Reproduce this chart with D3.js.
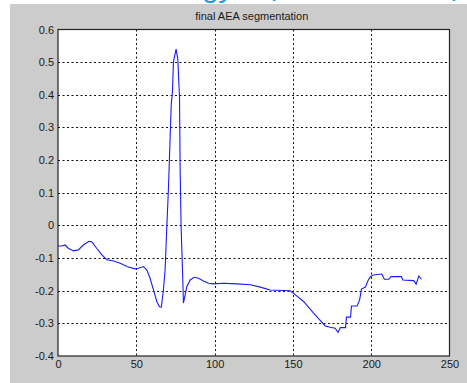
<!DOCTYPE html>
<html>
  <head>
    <meta charset="utf-8">
    <title></title>
    <script src="https://cdnjs.cloudflare.com/ajax/libs/d3/7.8.5/d3.min.js"></script>
    <style type="text/css">
        html, body{
            padding: 0px;
            margin: 0px;
            background: #fff;
        }
        svg{
            display: block;
            font-family: "Liberation Sans", Arial, sans-serif;
        }
    </style>
  </head>
  <body>
    <div id="vis"></div>
    <script type="text/javascript">

        // sample index (x) and amplitude (y)
        var sampleX = [0, 2.4, 4.5, 6.6, 9.8, 13, 16.2, 19.8, 21.5, 24.7, 28, 31.2, 35.5, 39.7, 44,
            49.2, 51.3, 54.5, 56.7, 58.8, 61, 63.1, 64.8, 66, 67.3, 68.4, 69.5, 70.5, 72.3, 73.1,
            73.7, 75.4, 76.5, 77.6, 78, 78.6, 79.5, 80.1, 81.2, 82.3, 84.4, 87, 89.7, 92.9, 96.1,
            99.3, 105.7, 114.3, 122.8, 129.2, 135.5, 148.3, 150.4, 156.8, 163.2, 167.3, 170.6,
            173.8, 177, 178.8, 180.3, 183.6, 184.2, 186.8, 187.4, 188.2, 191, 192.6, 193.8, 196.3,
            198, 199.5, 201.2, 206.8, 208.4, 211.2, 212.7, 219.3, 220.2, 227.2, 228.7, 230.4, 232.1];
        var amplitude = [-0.063, -0.063, -0.06, -0.07, -0.078, -0.075, -0.06, -0.049, -0.05, -0.07,
            -0.09, -0.105, -0.109, -0.116, -0.126, -0.133, -0.131, -0.126, -0.136, -0.162, -0.198,
            -0.233, -0.249, -0.25, -0.198, -0.136, -0.003, 0.109, 0.37, 0.41, 0.50, 0.54, 0.51,
            0.39, 0.17, -0.003, -0.136, -0.238, -0.213, -0.187, -0.167, -0.159, -0.162, -0.17,
            -0.177, -0.179, -0.177, -0.179, -0.182, -0.189, -0.198, -0.2, -0.208, -0.233, -0.269,
            -0.29, -0.308, -0.312, -0.315, -0.328, -0.313, -0.313, -0.281, -0.281, -0.247, -0.247,
            -0.247, -0.228, -0.195, -0.189, -0.169, -0.157, -0.152, -0.149, -0.165, -0.165, -0.157,
            -0.157, -0.167, -0.169, -0.18, -0.155, -0.165];

        var xTicks = [0, 50, 100, 150, 200, 250];
        var yTicks = [-0.4, -0.3, -0.2, -0.1, 0, 0.1, 0.2, 0.3, 0.4, 0.5, 0.6];
        var title = "final AEA segmentation";

        var width = 467, height = 383;
        var margin = {left: 58, right: 17.5, top: 29.5, bottom: 27};

        var svg = d3.select("#vis").append("svg")
            .attr("width", width)
            .attr("height", height);

        // grey figure background
        svg.append("rect")
            .attr("x", 10).attr("y", 4)
            .attr("width", width - 10).attr("height", height - 4)
            .attr("fill", "#cccccc");

        // cut-off heading text from the page above the figure (only its bottom shows)
        var head = svg.append("g")
            .attr("fill", "#1f9ee0")
            .attr("font-size", 30);
        head.append("text").attr("x", 204).attr("y", -3).attr("font-style", "italic").text("gy");
        head.append("text").attr("x", 266).attr("y", -5).text("(");
        head.append("text").attr("x", 452).attr("y", -5).text(")");

        var x = d3.scaleLinear().domain([0, 250])
            .range([margin.left, width - margin.right]);
        var y = d3.scaleLinear().domain([-0.4, 0.6])
            .range([height - margin.bottom, margin.top]);

        svg.append("rect")
            .attr("x", x(0)).attr("y", y(0.6))
            .attr("width", x(250) - x(0)).attr("height", y(-0.4) - y(0.6))
            .attr("fill", "#fff");

        // dotted grid
        var grid = svg.append("g")
            .attr("stroke", "#111")
            .attr("stroke-width", 1)
            .attr("stroke-dasharray", "2,2.5");
        grid.selectAll(".gx").data(xTicks.slice(1, -1)).enter().append("line")
            .attr("x1", d => Math.round(x(d)) + 0.5).attr("x2", d => Math.round(x(d)) + 0.5)
            .attr("y1", y(0.6)).attr("y2", y(-0.4));
        grid.selectAll(".gy").data(yTicks.slice(1, -1)).enter().append("line")
            .attr("y1", d => Math.round(y(d)) + 0.5).attr("y2", d => Math.round(y(d)) + 0.5)
            .attr("x1", x(0)).attr("x2", x(250));

        // signal
        var pts = sampleX.map((v, i) => [v, amplitude[i]]);
        var line = d3.line().x(d => x(d[0])).y(d => y(d[1]));
        svg.append("path")
            .datum(pts)
            .attr("d", line)
            .attr("fill", "none")
            .attr("stroke", "#1a1aff")
            .attr("stroke-width", 1.1);

        // axes frame
        svg.append("rect")
            .attr("x", x(0)).attr("y", y(0.6))
            .attr("width", x(250) - x(0)).attr("height", y(-0.4) - y(0.6))
            .attr("fill", "none")
            .attr("stroke", "#222")
            .attr("stroke-width", 1.2);

        var xAxis = svg.append("g")
            .attr("transform", "translate(0," + y(-0.4) + ")")
            .call(d3.axisBottom(x).tickValues(xTicks).tickSize(0).tickPadding(4)
                .tickFormat(d3.format("d")));
        var yAxis = svg.append("g")
            .attr("transform", "translate(" + x(0) + ",0)")
            .call(d3.axisLeft(y).tickValues(yTicks).tickSize(0).tickPadding(4)
                .tickFormat(d => d === 0 ? "0" : d3.format(".1f")(d).replace("\u2212", "-")));

        [xAxis, yAxis].forEach(a => {
            a.select(".domain").remove();
            a.selectAll("text")
                .attr("fill", "#1a1a1a")
                .attr("font-size", 11)
                .attr("font-family", "'Liberation Sans', Arial, sans-serif");
        });

        svg.append("text")
            .attr("x", (x(0) + x(250)) / 2 - 2)
            .attr("y", 20)
            .attr("text-anchor", "middle")
            .attr("font-size", 11)
            .attr("fill", "#1a1a1a")
            .text(title);

    </script>
  </body>
</html>
